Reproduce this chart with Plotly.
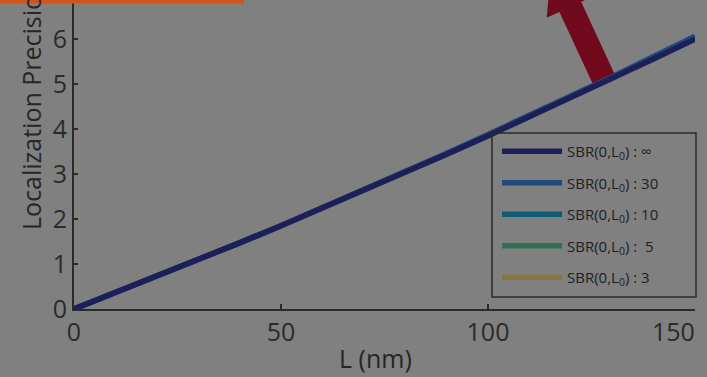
import plotly.graph_objects as go

# ---- data ----
L_nm = [0, 10, 20, 30, 40, 50, 60, 70, 80, 90, 100, 110, 120, 130, 140, 150]
prec_inf = [0, 0.36, 0.72, 1.09, 1.47, 1.85, 2.24, 2.63, 3.03, 3.44, 3.85, 4.27, 4.69, 5.12, 5.56, 6.00]
prec_30 = [0, 0.36, 0.72, 1.09, 1.47, 1.85, 2.25, 2.64, 3.05, 3.46, 3.88, 4.30, 4.73, 5.16, 5.61, 6.06]
prec_10 = [0, 0.36, 0.72, 1.09, 1.47, 1.85, 2.24, 2.63, 3.03, 3.44, 3.85, 4.27, 4.69, 5.12, 5.56, 6.00]
prec_5 = [0, 0.36, 0.72, 1.09, 1.47, 1.85, 2.24, 2.63, 3.03, 3.44, 3.85, 4.27, 4.69, 5.12, 5.56, 6.00]
prec_3 = [0, 0.36, 0.72, 1.09, 1.47, 1.85, 2.24, 2.63, 3.03, 3.44, 3.85, 4.27, 4.69, 5.12, 5.56, 6.00]
series_names = ["SBR(0,L<sub>0</sub>) : ∞", "SBR(0,L<sub>0</sub>) : 30", "SBR(0,L<sub>0</sub>) : 10",
                "SBR(0,L<sub>0</sub>) :  5", "SBR(0,L<sub>0</sub>) : 3"]
series_vals = [prec_inf, prec_30, prec_10, prec_5, prec_3]
series_colors = ["#1e1e58", "#204a7a", "#0d5e72", "#2e7254", "#86773a"]
x_ticks = [0, 50, 100, 150]
x_ticktext = ["0", "50", "100", ""]
y_ticks = [0, 1, 2, 3, 4, 5, 6]

W, H = 707, 377
ML, MR, MT, MB = 74, 12, 0, 68
PW, PH = W - ML - MR, H - MT - MB
BG = "#808080"
FONT = "Open Sans"
TXT = "#2b2b2b"


def px2paper(px, py):
    return (px - ML) / PW, (H - MB - py) / PH


fig = go.Figure()
# draw low-SBR first so the infinite-SBR curve is on top
for i in reversed(range(len(series_names))):
    fig.add_trace(go.Scatter(x=L_nm, y=series_vals[i], mode="lines", name=series_names[i],
                             legendgroup=f"g{i}", legendrank=i + 1,
                             line=dict(color=series_colors[i], width=5.5)))

# red arrow (pixel-defined polygon)
T = (606, 84)
d = (-0.42, -0.907)
n = (0.907, -0.42)
w, h, s, hl = 12, 26, 85, 45
pts = [
    (T[0] - w * n[0], T[1] - w * n[1]),
    (T[0] + s * d[0] - w * n[0], T[1] + s * d[1] - w * n[1]),
    (T[0] + s * d[0] - h * n[0], T[1] + s * d[1] - h * n[1]),
    (T[0] + (s + hl) * d[0], T[1] + (s + hl) * d[1]),
    (T[0] + s * d[0] + h * n[0], T[1] + s * d[1] + h * n[1]),
    (T[0] + s * d[0] + w * n[0], T[1] + s * d[1] + w * n[1]),
    (T[0] + w * n[0], T[1] + w * n[1]),
]
path = "M " + " L ".join(f"{px2paper(*p)[0]:.4f},{px2paper(*p)[1]:.4f}" for p in pts) + " Z"
fig.add_shape(type="path", path=path, xref="paper", yref="paper",
              fillcolor="#720a1e", line=dict(width=0), layer="below")

# orange bar at top
ox0, oy0 = px2paper(0, 3.5)
ox1, oy1 = px2paper(244, -2)
fig.add_shape(type="rect", xref="paper", yref="paper", x0=ox0, x1=ox1, y0=oy0, y1=oy1,
              fillcolor="#d2541a", line=dict(width=0))

# legend frame
lx0, ly0 = px2paper(492, 297)
lx1, ly1 = px2paper(696, 133)
fig.add_shape(type="rect", xref="paper", yref="paper", x0=lx0, x1=lx1, y0=ly0, y1=ly1,
              fillcolor="rgba(0,0,0,0)", line=dict(color="#2a2a2a", width=1.5))

# y title (cut at top as in the reference)
yx, yy = px2paper(31, 232)
fig.add_annotation(text="Localization Precision (nm)", textangle=-90, xref="paper", yref="paper",
                   x=yx, y=yy, xanchor="center", yanchor="bottom", showarrow=False,
                   font=dict(family=FONT, size=25, color="#262626"))

# x title
xx, xy = px2paper(375, 358)
fig.add_annotation(text="L (nm)", xref="paper", yref="paper", x=xx, y=xy,
                   xanchor="center", yanchor="middle", showarrow=False,
                   font=dict(family=FONT, size=25, color="#262626"))

# last x tick label, right-aligned to its tick as in the reference
_, ty = px2paper(0, 331)
fig.add_annotation(text="150", xref="x", yref="paper", x=150, y=ty,
                   xanchor="right", yanchor="middle", showarrow=False, xshift=2,
                   font=dict(family=FONT, size=25, color=TXT))

fig.update_layout(
    width=W, height=H,
    margin=dict(l=ML, r=MR, t=MT, b=MB),
    paper_bgcolor=BG, plot_bgcolor=BG,
    font=dict(family=FONT, color=TXT),
    showlegend=True,
    legend=dict(x=px2paper(497, 135)[0], y=px2paper(497, 135)[1], xanchor="left", yanchor="top",
                bgcolor="rgba(0,0,0,0)", borderwidth=0,
                font=dict(family=FONT, size=15, color="#1e1e1e"),
                traceorder="grouped", tracegroupgap=9, itemwidth=60),
    xaxis=dict(range=[0, 150], tickvals=x_ticks, ticktext=x_ticktext, ticks="inside", ticklen=5,
               tickwidth=1.5, tickcolor="#2a2a2a", showline=True, linecolor="#2a2a2a", linewidth=2,
               showgrid=False, zeroline=False, tickfont=dict(size=25, color=TXT)),
    yaxis=dict(range=[0, PH / 45.0], tickvals=y_ticks, ticks="inside", ticklen=4, tickwidth=1.5,
               tickcolor="#2a2a2a", showline=True, linecolor="#2a2a2a", linewidth=2,
               showgrid=False, zeroline=False, tickfont=dict(size=25, color=TXT)),
)

fig.write_html("out.html", config={"displayModeBar": False},
               post_script="document.body.style.margin='0';document.body.style.overflow='hidden';")
